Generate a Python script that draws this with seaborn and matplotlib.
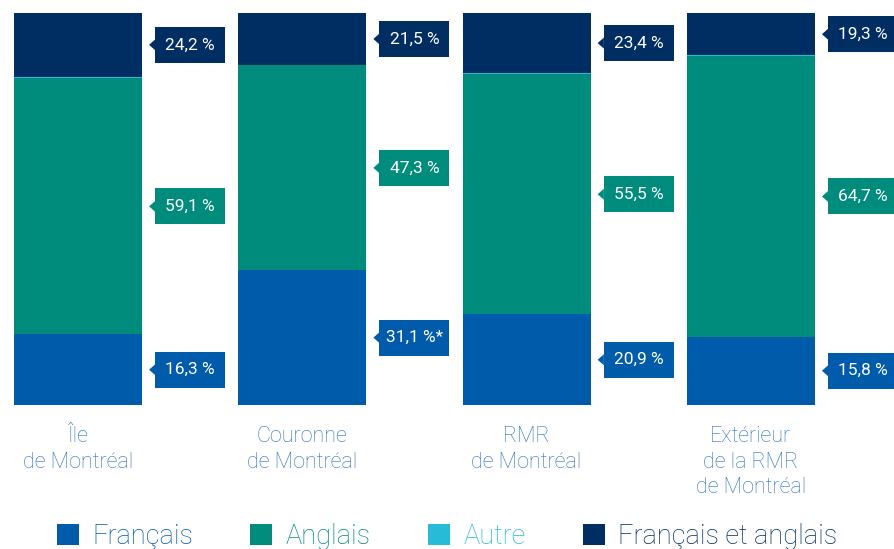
import pandas as pd
import matplotlib
matplotlib.use("Agg")
import matplotlib.pyplot as plt
import seaborn as sns
from matplotlib.patches import Patch, Rectangle, Polygon

# Langue parlée (%)
regions = ["Île\nde Montréal", "Couronne\nde Montréal", "RMR\nde Montréal",
           "Extérieur\nde la RMR\nde Montréal"]
francais = [16.3, 31.1, 20.9, 15.8]
anglais = [59.1, 47.3, 55.5, 64.7]
autre = [0.4, 0.1, 0.2, 0.2]
fr_et_en = [24.2, 21.5, 23.4, 19.3]
fr_notes = ["", "*", "", ""]

series_names = ["Français", "Anglais", "Autre", "Français et anglais"]
BLUE, TEAL, CYAN, NAVY = "#005BAA", "#008C7D", "#27BBD8", "#002D62"
colors = [BLUE, TEAL, CYAN, NAVY]
LABEL_BLUE = "#2F72BA"

sns.set_theme(style="white")
plt.rcParams["font.family"] = ["Roboto", "DejaVu Sans"]

df = pd.DataFrame({"region": regions, "fr": francais, "en": anglais,
                   "autre": autre, "both": fr_et_en})
df["c1"] = df["fr"]
df["c2"] = df["c1"] + df["en"]
df["c3"] = df["c2"] + df["autre"]
df["c4"] = df["c3"] + df["both"]

W, H = 894, 549
fig = plt.figure(figsize=(W / 100, H / 100), dpi=100)
ax = fig.add_axes([0, (H - 405) / H, 1, 392 / H])

bar_w = 0.571
for col, color in [("c4", NAVY), ("c3", CYAN), ("c2", TEAL), ("c1", BLUE)]:
    sns.barplot(data=df, x="region", y=col, order=regions, color=color,
                width=bar_w, saturation=1, errorbar=None, linewidth=0, ax=ax)

ymax = 90.5
xmin, xmax = -0.348, 3.638
ax.set_ylim(0, ymax)
ax.set_xlim(xmin, xmax)
ax.set_yticks([])
ax.set_xlabel("")
ax.set_ylabel("")
sns.despine(ax=ax, left=True, bottom=True)
ax.tick_params(axis="x", length=0, pad=15, labelsize=15.5, labelcolor=LABEL_BLUE)
for t in ax.get_xticklabels():
    t.set_fontweight("light")
    t.set_linespacing(1.3)

# étiquettes en forme de flèche
px_x = W / (xmax - xmin)
px_y = 392 / ymax
box_w, box_h = 70 / px_x, 36 / px_y
gap, tri_w, tri_h = 13 / px_x, 6 / px_x, 11 / px_y

def fmt(v, note=""):
    return f"{v:.1f}".replace(".", ",") + " %" + note

for i, row in df.iterrows():
    segs = [(0, row["c1"], BLUE, fmt(row["fr"], fr_notes[i])),
            (row["c1"], row["c2"], TEAL, fmt(row["en"])),
            (row["c3"], row["c4"], NAVY, fmt(row["both"]))]
    x0 = i + bar_w / 2 + gap
    for lo, hi, color, label in segs:
        yc = (lo + min(hi, ymax)) / 2
        ax.add_patch(Rectangle((x0, yc - box_h / 2), box_w, box_h,
                               facecolor=color, edgecolor="none", clip_on=False))
        ax.add_patch(Polygon([(x0 + 0.001, yc + tri_h / 2), (x0 + 0.001, yc - tri_h / 2),
                              (x0 - tri_w, yc)], closed=True,
                             facecolor=color, edgecolor="none", clip_on=False))
        ax.text(x0 + box_w / 2, yc, label, ha="center", va="center",
                color="white", fontsize=12.5)

handles = [Patch(facecolor=c, edgecolor="none") for c in colors]
fig.legend(handles, series_names, loc="center", bbox_to_anchor=(0.5, 1 - 536 / H),
           ncol=4, frameon=False, prop={"size": 19.5, "weight": "light"},
           handlelength=0.82, handleheight=0.82, handletextpad=0.5,
           columnspacing=2.1, labelcolor=colors, borderpad=0, borderaxespad=0)

fig.savefig("out.png", dpi=100)
